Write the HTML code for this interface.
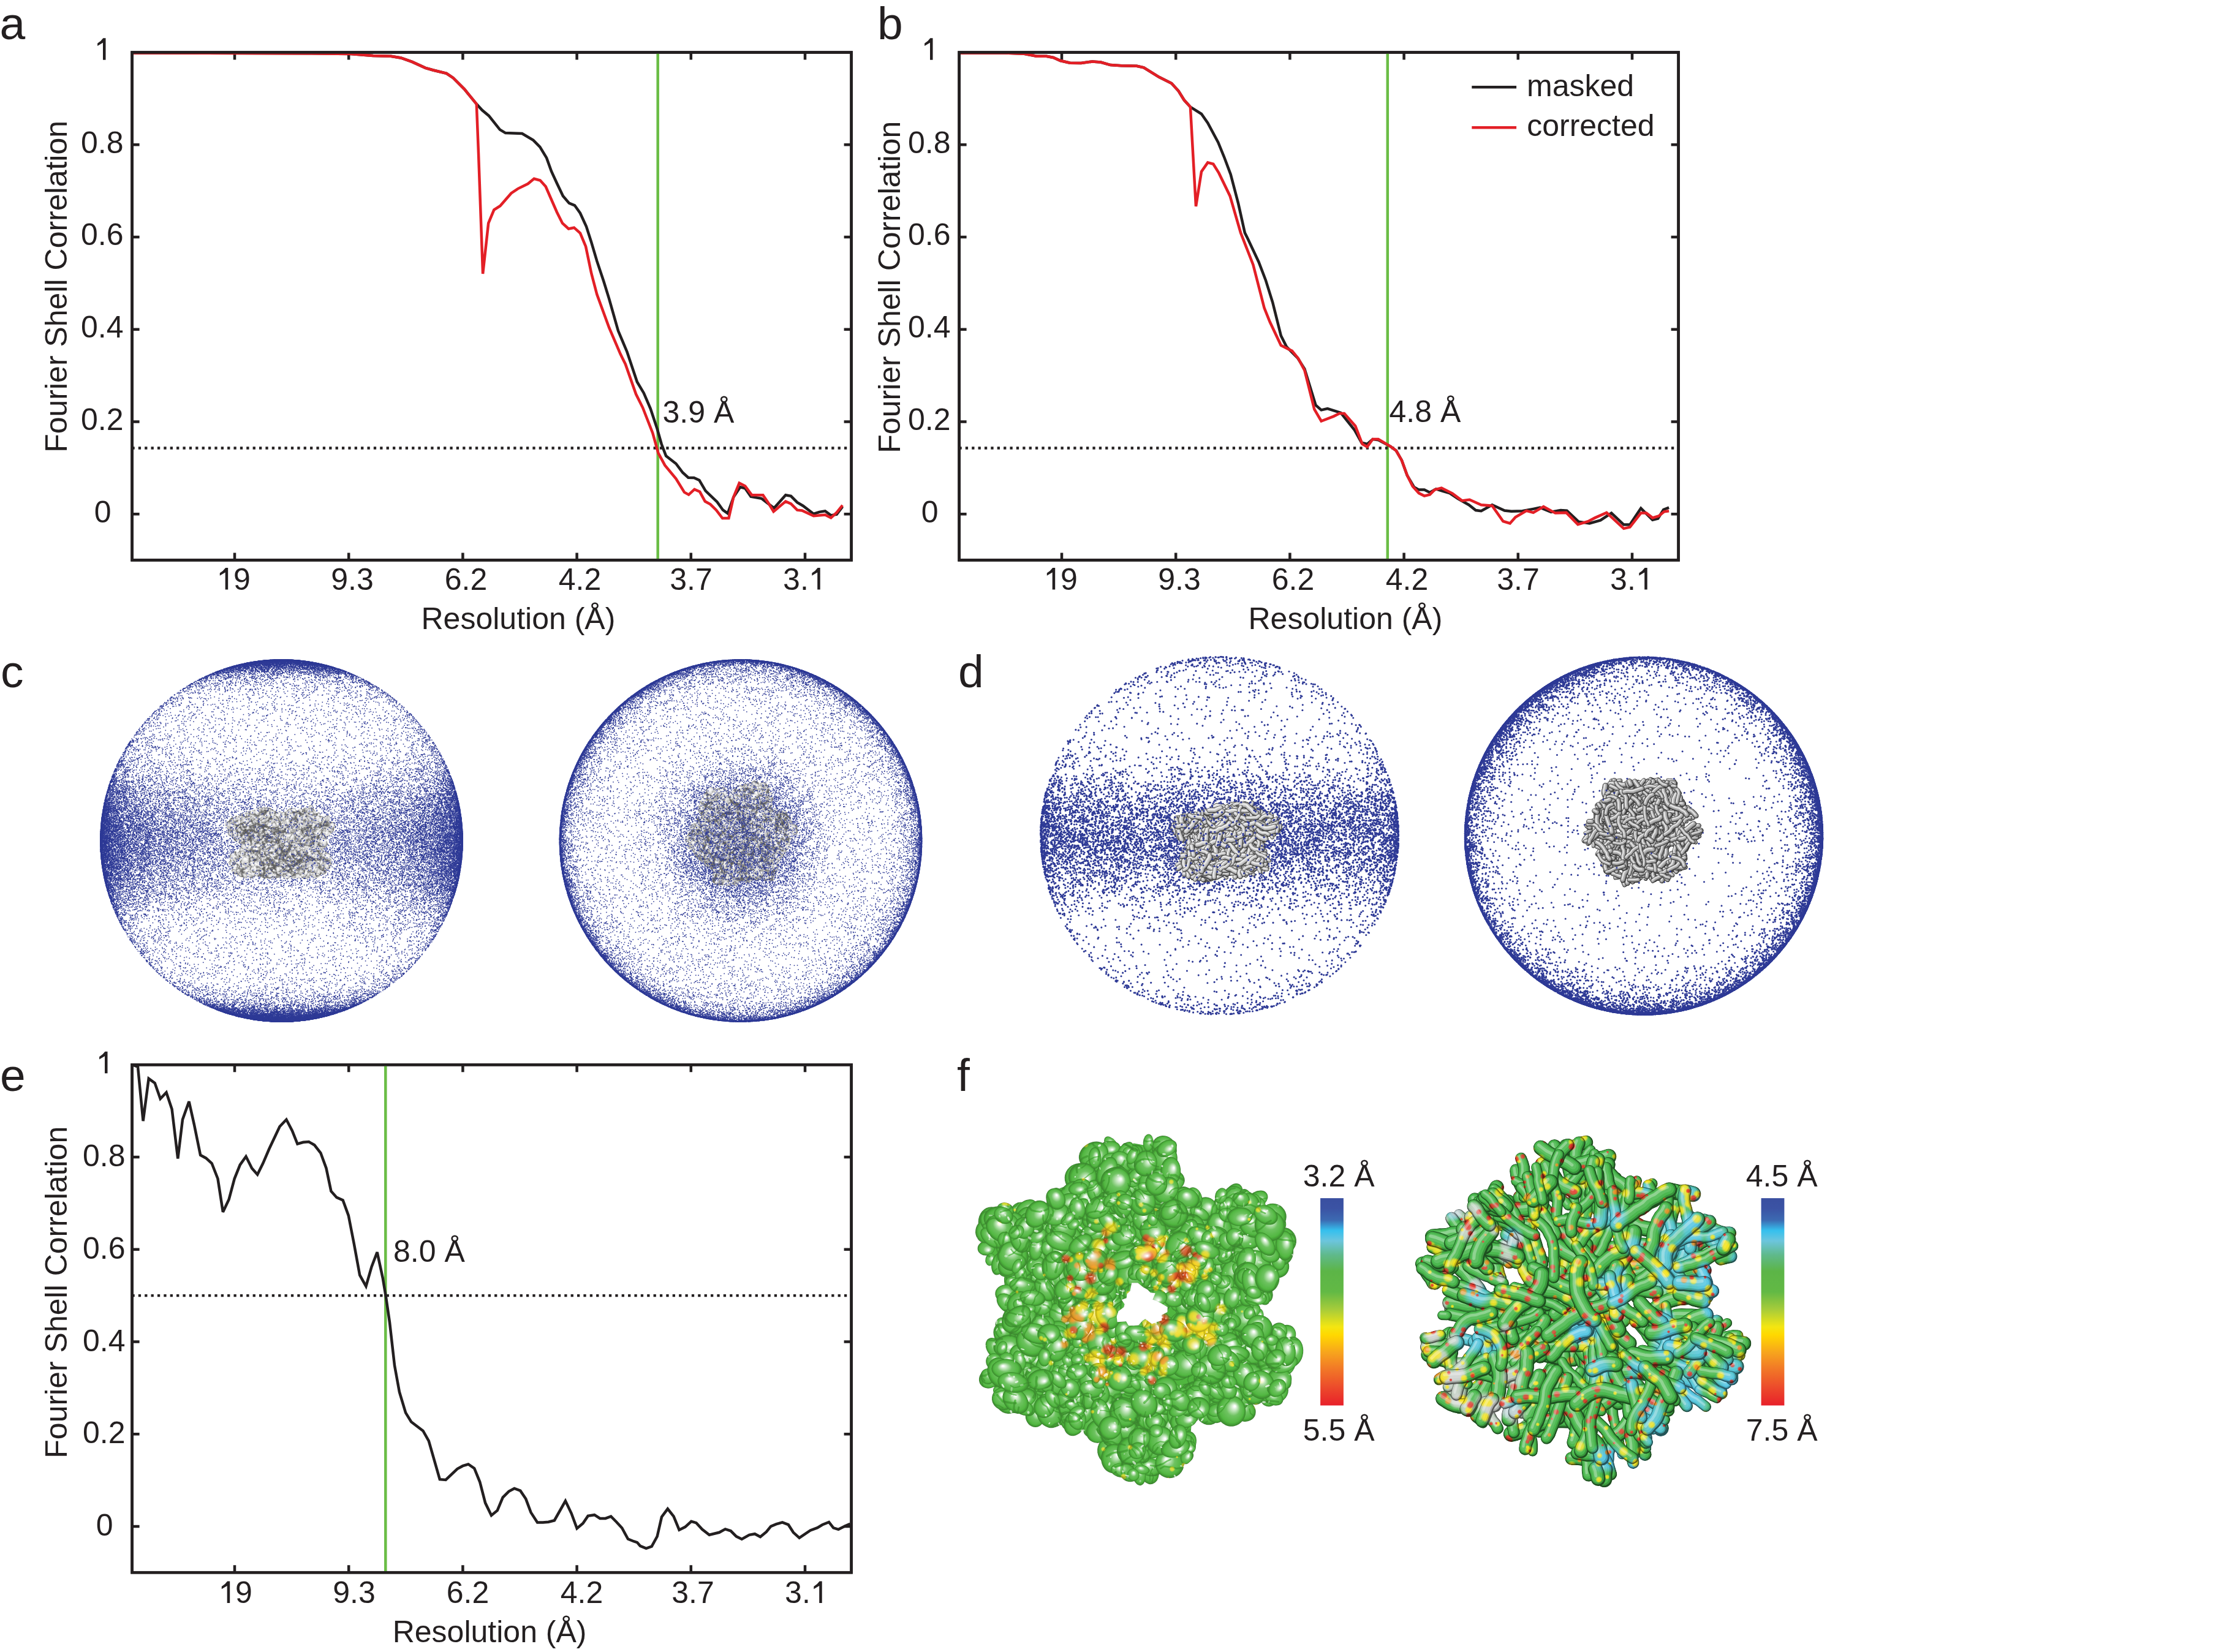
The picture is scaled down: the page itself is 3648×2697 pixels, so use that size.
<!DOCTYPE html>
<html><head><meta charset="utf-8"><title>figure</title>
<style>
html,body{margin:0;padding:0;background:#fff;}
body{width:3648px;height:2697px;position:relative;overflow:hidden;}
#cv,#sv{position:absolute;left:0;top:0;}
.t{font-family:"Liberation Sans",sans-serif;font-size:50px;fill:#231f20;}
.L{font-family:"Liberation Sans",sans-serif;font-size:75px;fill:#231f20;}
</style></head><body>
<canvas id="cv" width="3648" height="2697"></canvas>
<svg id="sv" width="3648" height="2697" viewBox="0 0 3648 2697">
<rect x="215.6" y="85.5" width="1174.0" height="828.9" fill="none" stroke="#231f20" stroke-width="4.5"/>
<path d="M383.0 914.4v-12M383.0 85.5v12M569.2 914.4v-12M569.2 85.5v12M755.4 914.4v-12M755.4 85.5v12M941.6 914.4v-12M941.6 85.5v12M1127.8 914.4v-12M1127.8 85.5v12M1314.0 914.4v-12M1314.0 85.5v12M215.6 839.2h12M1389.6 839.2h-12M215.6 688.5h12M1389.6 688.5h-12M215.6 537.8h12M1389.6 537.8h-12M215.6 387.0h12M1389.6 387.0h-12M215.6 236.3h12M1389.6 236.3h-12" stroke="#231f20" stroke-width="4.5" fill="none"/>
<path transform="translate(153.6,97.8)" d="M18.9 0H14.4V-28Q10 -25.4 5.5 -22.8V-27.1Q11.2 -30.4 14.8 -35.6H18.9Z" fill="#231f20"/>
<text x="166.8" y="249.6" text-anchor="middle" class="t">0.8</text>
<text x="166.8" y="400.3" text-anchor="middle" class="t">0.6</text>
<text x="166.8" y="551.1" text-anchor="middle" class="t">0.4</text>
<text x="166.8" y="701.8" text-anchor="middle" class="t">0.2</text>
<text x="167.6" y="852.5" text-anchor="middle" class="t">0</text>
<path transform="translate(353.3,962.6)" d="M18.9 0H14.4V-28Q10 -25.4 5.5 -22.8V-27.1Q11.2 -30.4 14.8 -35.6H18.9Z" fill="#231f20"/>
<text x="381.1" y="962.6" class="t">9</text>
<text x="575.0" y="962.6" text-anchor="middle" class="t">9.3</text>
<text x="760.5" y="962.6" text-anchor="middle" class="t">6.2</text>
<text x="946.5" y="962.6" text-anchor="middle" class="t">4.2</text>
<text x="1128.0" y="962.6" text-anchor="middle" class="t">3.7</text>
<text x="1278.1" y="962.6" class="t">3.</text>
<path transform="translate(1319.8,962.6)" d="M18.9 0H14.4V-28Q10 -25.4 5.5 -22.8V-27.1Q11.2 -30.4 14.8 -35.6H18.9Z" fill="#231f20"/>
<text x="687.5" y="1026.8" class="t">Resolution (Å)</text>
<text transform="translate(108.6,738.8) rotate(-90)" class="t">Fourier Shell Correlation</text>
<line x1="1073.7" y1="85.5" x2="1073.7" y2="914.4" stroke="#6abd45" stroke-width="4.5"/>
<line x1="215.4" y1="731.5" x2="1387.6" y2="731.5" stroke="#231f20" stroke-width="4.4" stroke-dasharray="4.3 6.08"/>
<text x="1081.5" y="689.6" class="t">3.9 Å</text>
<rect x="1565.6" y="85.5" width="1174.0" height="828.9" fill="none" stroke="#231f20" stroke-width="4.5"/>
<path d="M1733.0 914.4v-12M1733.0 85.5v12M1919.2 914.4v-12M1919.2 85.5v12M2105.4 914.4v-12M2105.4 85.5v12M2291.6 914.4v-12M2291.6 85.5v12M2477.8 914.4v-12M2477.8 85.5v12M2664.0 914.4v-12M2664.0 85.5v12M1565.6 839.2h12M2739.6 839.2h-12M1565.6 688.5h12M2739.6 688.5h-12M1565.6 537.8h12M2739.6 537.8h-12M1565.6 387.0h12M2739.6 387.0h-12M1565.6 236.3h12M2739.6 236.3h-12" stroke="#231f20" stroke-width="4.5" fill="none"/>
<path transform="translate(1503.6,97.8)" d="M18.9 0H14.4V-28Q10 -25.4 5.5 -22.8V-27.1Q11.2 -30.4 14.8 -35.6H18.9Z" fill="#231f20"/>
<text x="1516.8" y="249.6" text-anchor="middle" class="t">0.8</text>
<text x="1516.8" y="400.3" text-anchor="middle" class="t">0.6</text>
<text x="1516.8" y="551.1" text-anchor="middle" class="t">0.4</text>
<text x="1516.8" y="701.8" text-anchor="middle" class="t">0.2</text>
<text x="1517.6" y="852.5" text-anchor="middle" class="t">0</text>
<path transform="translate(1703.3,962.6)" d="M18.9 0H14.4V-28Q10 -25.4 5.5 -22.8V-27.1Q11.2 -30.4 14.8 -35.6H18.9Z" fill="#231f20"/>
<text x="1731.1" y="962.6" class="t">9</text>
<text x="1925.0" y="962.6" text-anchor="middle" class="t">9.3</text>
<text x="2110.5" y="962.6" text-anchor="middle" class="t">6.2</text>
<text x="2296.5" y="962.6" text-anchor="middle" class="t">4.2</text>
<text x="2478.0" y="962.6" text-anchor="middle" class="t">3.7</text>
<text x="2628.1" y="962.6" class="t">3.</text>
<path transform="translate(2669.8,962.6)" d="M18.9 0H14.4V-28Q10 -25.4 5.5 -22.8V-27.1Q11.2 -30.4 14.8 -35.6H18.9Z" fill="#231f20"/>
<text x="2037.5" y="1026.8" class="t">Resolution (Å)</text>
<text transform="translate(1468.5,739.7) rotate(-90)" class="t">Fourier Shell Correlation</text>
<line x1="2264.8" y1="85.5" x2="2264.8" y2="914.4" stroke="#6abd45" stroke-width="4.5"/>
<line x1="1565.4" y1="731.5" x2="2737.6" y2="731.5" stroke="#231f20" stroke-width="4.4" stroke-dasharray="4.3 6.08"/>
<text x="2267.5" y="688.7" class="t">4.8 Å</text>
<rect x="215.6" y="1738.3" width="1174.0" height="828.8999999999999" fill="none" stroke="#231f20" stroke-width="4.5"/>
<path d="M383.0 2567.2v-12M383.0 1738.3v12M569.2 2567.2v-12M569.2 1738.3v12M755.4 2567.2v-12M755.4 1738.3v12M941.6 2567.2v-12M941.6 1738.3v12M1127.8 2567.2v-12M1127.8 1738.3v12M1314.0 2567.2v-12M1314.0 1738.3v12M215.6 2492.0h12M1389.6 2492.0h-12M215.6 2341.3h12M1389.6 2341.3h-12M215.6 2190.6h12M1389.6 2190.6h-12M215.6 2039.8h12M1389.6 2039.8h-12M215.6 1889.1h12M1389.6 1889.1h-12" stroke="#231f20" stroke-width="4.5" fill="none"/>
<path transform="translate(156.6,1752.3)" d="M18.9 0H14.4V-28Q10 -25.4 5.5 -22.8V-27.1Q11.2 -30.4 14.8 -35.6H18.9Z" fill="#231f20"/>
<text x="169.8" y="1904.1" text-anchor="middle" class="t">0.8</text>
<text x="169.8" y="2054.8" text-anchor="middle" class="t">0.6</text>
<text x="169.8" y="2205.6" text-anchor="middle" class="t">0.4</text>
<text x="169.8" y="2356.3" text-anchor="middle" class="t">0.2</text>
<text x="170.6" y="2507.0" text-anchor="middle" class="t">0</text>
<path transform="translate(356.3,2617.1)" d="M18.9 0H14.4V-28Q10 -25.4 5.5 -22.8V-27.1Q11.2 -30.4 14.8 -35.6H18.9Z" fill="#231f20"/>
<text x="384.1" y="2617.1" class="t">9</text>
<text x="578.0" y="2617.1" text-anchor="middle" class="t">9.3</text>
<text x="763.5" y="2617.1" text-anchor="middle" class="t">6.2</text>
<text x="949.5" y="2617.1" text-anchor="middle" class="t">4.2</text>
<text x="1131.0" y="2617.1" text-anchor="middle" class="t">3.7</text>
<text x="1281.1" y="2617.1" class="t">3.</text>
<path transform="translate(1322.8,2617.1)" d="M18.9 0H14.4V-28Q10 -25.4 5.5 -22.8V-27.1Q11.2 -30.4 14.8 -35.6H18.9Z" fill="#231f20"/>
<text x="640.7" y="2681.1" class="t">Resolution (Å)</text>
<text transform="translate(108.6,2380.7) rotate(-90)" class="t">Fourier Shell Correlation</text>
<line x1="629.3" y1="1738.3" x2="629.3" y2="2567.2" stroke="#6abd45" stroke-width="4.5"/>
<line x1="215.4" y1="2115.1" x2="1387.6" y2="2115.1" stroke="#231f20" stroke-width="4.4" stroke-dasharray="4.3 6.08"/>
<text x="642" y="2060.1" class="t">8.0 Å</text>
<polyline points="217.0,86.5 500.0,87.2 572.6,88.1 609.0,90.9 638.0,91.8 654.3,94.5 672.5,100.9 694.3,110.8 707.0,114.5 728.8,119.9 739.7,127.2 757.8,145.3 777.8,169.8 786.9,179.8 797.8,188.9 815.9,211.6 825.0,217.1 852.2,218.0 870.4,228.9 881.3,239.8 892.2,257.9 900.0,279.7 908.9,299.0 918.9,319.9 928.9,331.7 938.0,335.3 947.0,348.0 957.0,369.8 965.2,395.3 974.3,426.1 985.2,458.8 994.2,487.9 1009.0,540.0 1023.5,574.5 1039.9,623.5 1050.8,641.7 1061.7,667.1 1072.6,699.8 1079.8,725.2 1087.1,744.3 1103.4,757.0 1114.3,771.5 1123.4,779.7 1132.7,780.0 1141.4,783.9 1151.6,801.3 1170.5,819.4 1180.0,832.7 1187.8,838.2 1197.3,811.5 1208.3,795.0 1216.2,797.3 1225.6,810.7 1242.9,813.8 1263.4,829.6 1282.3,808.3 1291.0,809.9 1301.2,820.1 1310.6,825.7 1328.0,839.0 1337.4,835.9 1346.8,834.3 1356.3,841.4 1365.7,839.8 1375.2,827.2" fill="none" stroke="#231f20" stroke-width="4.5" stroke-linejoin="miter" stroke-miterlimit="3"/>
<polyline points="217.0,86.5 500.0,87.2 572.6,88.1 609.0,90.9 638.0,91.8 654.3,94.5 672.5,100.9 694.3,110.8 707.0,114.5 728.8,119.9 739.7,127.2 757.8,145.3 777.8,169.8 781.0,250.0 788.1,447.0 797.2,364.4 806.3,342.6 816.3,336.2 834.4,315.4 845.3,308.1 861.7,300.0 871.7,291.8 881.7,294.5 890.7,304.5 908.9,346.2 918.0,364.4 928.0,373.5 937.0,371.7 947.0,380.7 956.1,402.5 965.2,446.1 974.3,480.6 994.2,535.0 1012.7,578.1 1020.8,594.5 1038.1,643.5 1049.0,665.3 1065.3,707.0 1074.4,739.7 1085.3,759.7 1103.4,781.5 1117.0,803.6 1124.1,807.6 1133.5,798.9 1142.2,802.8 1150.8,818.6 1159.5,823.3 1169.0,832.7 1179.2,846.1 1189.4,846.1 1197.3,811.5 1206.7,788.7 1216.2,793.4 1227.2,808.3 1245.3,808.3 1254.0,820.9 1262.6,835.1 1282.3,818.6 1291.0,822.5 1301.2,832.7 1309.1,833.5 1328.0,842.2 1346.8,840.6 1356.3,845.3 1365.7,836.7 1375.2,824.9" fill="none" stroke="#e31f26" stroke-width="4.5" stroke-linejoin="miter" stroke-miterlimit="3"/>
<polyline points="1567.0,86.5 1640.0,86.5 1671.7,87.7 1692.1,91.8 1708.0,91.8 1719.3,94.0 1730.7,99.0 1746.6,102.7 1764.7,103.1 1782.9,100.4 1796.5,101.5 1812.4,106.1 1830.5,107.2 1855.5,107.7 1866.9,110.4 1891.8,125.8 1912.2,136.0 1923.6,148.5 1932.7,163.3 1942.9,174.6 1961.0,186.0 1971.3,200.7 1988.3,232.5 1998.5,257.5 2008.7,284.7 2021.2,332.4 2031.8,380.0 2036.3,389.1 2054.5,427.7 2065.8,457.2 2077.2,493.5 2090.8,548.0 2099.9,566.1 2118.0,584.3 2129.4,602.4 2147.5,661.4 2156.6,669.4 2166.8,667.1 2188.4,673.9 2211.1,702.3 2222.4,722.7 2231.5,725.0 2240.6,717.0 2249.7,718.2 2270.0,729.1 2278.9,735.8 2287.9,751.5 2296.8,776.1 2308.0,795.1 2315.9,799.6 2324.8,799.6 2333.8,804.0 2343.8,798.4 2355.0,801.8 2366.2,805.1 2379.6,814.1 2397.5,824.2 2408.7,833.1 2417.6,834.2 2435.5,824.2 2455.7,833.6 2466.9,834.7 2484.8,834.2 2502.7,830.9 2513.8,828.6 2531.7,835.8 2547.4,833.1 2557.5,833.6 2576.5,851.7 2594.4,854.4 2612.3,849.4 2630.2,837.6 2650.3,856.6 2660.4,856.6 2678.3,829.8 2697.3,848.8 2706.2,846.5 2715.2,832.0 2724.1,828.6" fill="none" stroke="#231f20" stroke-width="4.5" stroke-linejoin="miter" stroke-miterlimit="3"/>
<polyline points="1567.0,86.5 1640.0,86.5 1671.7,87.7 1692.1,91.8 1708.0,91.8 1719.3,94.0 1730.7,99.0 1746.6,102.7 1764.7,103.1 1782.9,100.4 1796.5,101.5 1812.4,106.1 1830.5,107.2 1855.5,107.7 1866.9,110.4 1891.8,125.8 1912.2,136.0 1923.6,148.5 1932.7,163.3 1942.9,174.6 1952.0,336.9 1961.0,280.2 1971.3,265.4 1980.3,267.7 1989.4,282.4 2007.6,319.9 2025.0,380.0 2045.4,432.2 2063.5,502.6 2072.6,525.3 2090.8,563.8 2108.9,572.9 2119.2,585.4 2129.4,604.7 2145.3,668.2 2156.6,687.5 2177.0,679.6 2186.1,675.0 2194.1,675.0 2212.2,695.5 2223.6,725.0 2231.5,729.5 2240.6,717.0 2249.7,717.0 2270.0,729.1 2278.9,735.8 2287.9,751.5 2296.8,776.1 2305.8,794.0 2315.9,805.1 2324.8,809.6 2333.8,807.4 2341.6,799.6 2352.8,796.6 2370.7,805.6 2386.3,817.4 2398.6,815.7 2417.6,824.2 2435.5,825.7 2453.4,851.0 2464.6,854.4 2473.6,844.3 2491.5,833.8 2502.7,836.9 2519.4,827.1 2538.5,837.6 2556.4,836.9 2575.4,856.2 2592.1,851.2 2603.3,845.4 2622.3,836.9 2650.3,862.9 2660.4,860.6 2678.3,837.6 2687.2,837.6 2697.3,845.4 2707.4,842.5 2716.3,835.3 2724.1,834.2" fill="none" stroke="#e31f26" stroke-width="4.5" stroke-linejoin="miter" stroke-miterlimit="3"/>
<polyline points="217.0,1738.6 225.0,1741.6 233.6,1830.1 242.7,1760.9 252.7,1768.1 261.7,1793.8 271.5,1783.5 280.6,1810.8 290.3,1891.4 298.0,1827.8 308.5,1798.3 316.9,1835.8 327.1,1885.7 336.2,1890.7 345.7,1899.3 355.5,1924.3 363.9,1978.7 373.6,1958.3 382.7,1924.3 391.8,1901.6 401.5,1888.0 411.1,1907.2 420.2,1917.5 429.2,1899.3 439.4,1875.5 456.5,1839.2 467.4,1827.8 476.9,1846.0 485.5,1867.5 495.0,1864.8 504.1,1864.1 513.2,1869.3 523.4,1882.3 532.5,1907.2 540.4,1944.7 549.5,1954.9 559.7,1959.4 568.8,1984.4 577.9,2030.9 587.2,2081.7 597.4,2099.9 606.5,2068.1 615.6,2044.3 624.7,2086.2 630.4,2120.3 636.0,2158.9 644.0,2229.2 651.9,2272.4 662.1,2306.4 671.2,2321.2 690.5,2335.9 699.8,2352.3 717.8,2415.2 727.6,2416.0 746.4,2398.1 755.4,2393.2 764.4,2390.4 774.2,2397.2 783.2,2419.3 792.1,2453.6 802.0,2474.0 811.8,2465.9 820.7,2444.6 830.5,2434.8 839.5,2429.9 849.3,2433.7 858.3,2447.1 866.5,2469.1 877.1,2485.5 886.1,2485.5 895.1,2484.7 904.9,2482.2 922.9,2450.4 932.7,2470.8 941.7,2495.3 951.5,2487.1 959.7,2474.9 970.3,2473.2 979.3,2478.9 988.2,2478.9 997.2,2475.7 1006.2,2484.7 1015.2,2494.5 1025.0,2512.5 1034.8,2516.5 1040.0,2518.1 1044.9,2523.8 1054.7,2527.9 1063.7,2524.6 1072.7,2508.3 1080.0,2476.4 1089.8,2463.3 1099.6,2475.6 1108.6,2497.7 1118.4,2492.8 1128.3,2483.8 1136.4,2486.2 1146.2,2496.8 1157.7,2505.8 1174.0,2501.8 1183.8,2496.4 1192.8,2499.3 1201.8,2508.3 1210.8,2512.7 1223.0,2505.8 1232.0,2504.2 1241.0,2509.1 1250.8,2500.9 1258.2,2491.9 1267.2,2488.2 1277.0,2485.4 1286.8,2489.2 1294.9,2501.8 1304.7,2510.7 1322.7,2498.5 1334.2,2494.1 1342.3,2489.2 1353.0,2484.9 1360.3,2494.4 1368.5,2496.8 1380.0,2491.1 1387.5,2487.9" fill="none" stroke="#231f20" stroke-width="4.5" stroke-linejoin="miter" stroke-miterlimit="3"/>
<rect x="215.6" y="85.5" width="1174.0" height="828.9" fill="none" stroke="#231f20" stroke-width="4.5"/>
<rect x="1565.6" y="85.5" width="1174.0" height="828.9" fill="none" stroke="#231f20" stroke-width="4.5"/>
<rect x="215.6" y="1738.3" width="1174.0" height="828.9" fill="none" stroke="#231f20" stroke-width="4.5"/>
<line x1="2402.3" y1="142.2" x2="2475.1" y2="142.2" stroke="#231f20" stroke-width="4.5"/>
<line x1="2402.3" y1="208.3" x2="2475.1" y2="208.3" stroke="#e31f26" stroke-width="4.5"/>
<text x="2492" y="156.5" class="t">masked</text>
<text x="2492.2" y="222.3" class="t">corrected</text>
<text x="-0.5" y="63.8" class="L">a</text>
<text x="1432" y="64" class="L">b</text>
<text x="0.9" y="1122" class="L">c</text>
<text x="1564" y="1122" class="L">d</text>
<text x="0" y="1781" class="L">e</text>
<text x="1562" y="1780.6" class="L">f</text>
<defs><linearGradient id="cb" x1="0" y1="0" x2="0" y2="1">
<stop offset="0" stop-color="#3a4fa0"/><stop offset="0.05" stop-color="#3b53a4"/><stop offset="0.106" stop-color="#3c6ab2"/>
<stop offset="0.156" stop-color="#35c0ee"/><stop offset="0.206" stop-color="#6cc5dd"/><stop offset="0.275" stop-color="#5fb98a"/>
<stop offset="0.352" stop-color="#5cb547"/><stop offset="0.452" stop-color="#62b945"/><stop offset="0.537" stop-color="#a7cc3a"/>
<stop offset="0.621" stop-color="#f4e611"/><stop offset="0.66" stop-color="#ffd800"/><stop offset="0.745" stop-color="#f7a41d"/>
<stop offset="0.814" stop-color="#f27d26"/><stop offset="0.914" stop-color="#ec4a2b"/><stop offset="1" stop-color="#e8202a"/>
</linearGradient></defs>
<rect x="2155.1" y="1956.1" width="37.8" height="338.4" fill="url(#cb)"/>
<rect x="2874.6" y="1956.1" width="37.8" height="338.4" fill="url(#cb)"/>
<text x="2126.8" y="1937.4" class="t">3.2 Å</text>
<text x="2126.8" y="2351.8" class="t">5.5 Å</text>
<text x="2849.8" y="1937.4" class="t">4.5 Å</text>
<text x="2849.8" y="2351.8" class="t">7.5 Å</text>
<g id="fb">
<defs><radialGradient id="gc"><stop offset="0" stop-color="#2e3a96" stop-opacity="0.13"/><stop offset="0.8" stop-color="#2e3a96" stop-opacity="0.25"/><stop offset="1" stop-color="#2e3a96" stop-opacity="0.9"/></radialGradient>
<radialGradient id="gd"><stop offset="0" stop-color="#2e3a96" stop-opacity="0.05"/><stop offset="0.85" stop-color="#2e3a96" stop-opacity="0.12"/><stop offset="1" stop-color="#2e3a96" stop-opacity="0.85"/></radialGradient></defs>
<circle cx="459.5" cy="1372.5" r="295.5" fill="url(#gc)"/>
<circle cx="1209" cy="1372.5" r="295.5" fill="url(#gc)"/>
<circle cx="1990.6" cy="1364.2" r="292" fill="url(#gd)"/>
<circle cx="2683" cy="1364.6" r="291.7" fill="url(#gd)"/>
<rect x="1698" y="1290" width="584" height="150" fill="#2e3a96" fill-opacity="0.15"/>
<polygon points="399,1323 422,1316 443,1318 458,1323 479,1318 515,1316 520,1324 542,1334 551,1348 544,1362 537,1378 530,1388 540,1398 546,1408 540,1424 525,1434 494,1436 453,1437 412,1436 379,1429 371,1414 376,1398 393,1383 381,1372 365,1352 364,1339 376,1333 386,1329" fill="#8a8a8a"/>
<polygon points="1155,1283 1177,1283 1187,1293 1216,1273 1249,1275 1264,1293 1260,1314 1289,1329 1305,1355 1297,1375 1277,1407 1266,1439 1233,1440 1193,1450 1167,1448 1159,1423 1127,1396 1113,1370 1120,1354 1140,1330 1136,1306 1147,1294" fill="#7a7a9a"/>
<polygon points="1915,1335 1942,1329 1968,1324 1988,1315 2019,1311 2044,1311 2052,1321 2086,1333 2091,1352 2084,1366 2060,1372 2065,1383 2073,1403 2071,1424 2044,1429 2014,1434 1983,1436 1952,1437 1926,1429 1918,1408 1931,1393 1939,1378 1921,1367 1913,1352" fill="#b0b0b0"/>
<polygon points="1773,1874 1814,1854 1851,1847 1913,1858 1917,1904 1939,1922 1984,1952 2013,1933 2083,1956 2098,1989 2113,2026 2120,2044 2102,2059 2083,2088 2072,2144 2068,2166 2113,2170 2124,2221 2120,2255 2094,2292 2050,2310 1991,2317 1954,2336 1950,2365 1939,2395 1913,2413 1858,2423 1806,2406 1799,2369 1780,2347 1725,2328 1673,2321 1644,2306 1618,2280 1603,2273 1600,2236 1607,2192 1625,2162 1633,2125 1622,2070 1592,2048 1592,2015 1601,1989 1636,1959 1688,1952 1718,1937 1747,1915 1769,1896" fill="#4fb63e"/>
<polygon points="2479,1886 2500,1876 2564,1867 2593,1856 2604,1879 2643,1890 2646,1911 2668,1926 2729,1936 2761,1940 2775,1983 2821,1997 2832,2051 2811,2069 2796,2097 2793,2154 2832,2158 2850,2186 2839,2215 2829,2251 2818,2272 2775,2304 2732,2290 2714,2333 2693,2340 2686,2376 2657,2397 2621,2419 2586,2419 2546,2397 2514,2386 2489,2365 2461,2347 2418,2322 2393,2301 2357,2304 2346,2261 2343,2229 2321,2201 2325,2154 2354,2147 2364,2119 2357,2101 2318,2090 2314,2069 2332,2051 2336,2011 2382,1972 2407,1958 2443,1936 2446,1940 2471,1926" fill="#5cb85c"/>
<circle cx="2681" cy="1356" r="90" fill="#b0b0b0"/>
<circle cx="1862" cy="2134" r="33" fill="#fff"/>
</g>
</svg>
<script>
(function(){
var fbe=document.getElementById('fb');if(fbe)fbe.style.display='none';
var cv=document.getElementById('cv');
var ctx=cv.getContext('2d');
function mk(seed){var s=seed>>>0;return function(){s=(s+0x6D2B79F5)>>>0;var t=s;t=Math.imul(t^(t>>>15),t|1);t^=t+Math.imul(t^(t>>>7),t|61);return((t^(t>>>14))>>>0)/4294967296;};}
function gs(r){var u=0;while(u===0)u=r();var v=r();return Math.sqrt(-2*Math.log(u))*Math.cos(6.283185*v);}
function polyPath(c,p){c.beginPath();c.moveTo(p[0],p[1]);for(var i=2;i<p.length;i+=2)c.lineTo(p[i],p[i+1]);c.closePath();}
function inPoly(p,x,y){var ins=false;for(var i=0,j=p.length-2;i<p.length;j=i,i+=2){var xi=p[i],yi=p[i+1],xj=p[j],yj=p[j+1];if(((yi>y)!=(yj>y))&&(x<(xj-xi)*(y-yi)/(yj-yi)+xi))ins=!ins;}return ins;}
function bbox(p){var a=1e9,b=1e9,c=-1e9,d=-1e9;for(var i=0;i<p.length;i+=2){a=Math.min(a,p[i]);c=Math.max(c,p[i]);b=Math.min(b,p[i+1]);d=Math.max(d,p[i+1]);}return[a,b,c,d];}
function randIn(r,p,bb){for(var k=0;k<200;k++){var x=bb[0]+r()*(bb[2]-bb[0]),y=bb[1]+r()*(bb[3]-bb[1]);if(inPoly(p,x,y))return[x,y];}return[(bb[0]+bb[2])/2,(bb[1]+bb[3])/2];}

/* ---------- sphere point clouds ---------- */
function genPts(r,o){
  var P=[];
  var n=o.axis;
  var e1,e2;
  if(Math.abs(n[2])>0.9){e1=[1,0,0];e2=[0,1,0];}else{e1=[1,0,0];e2=[0,0,1];}
  function push(v){P.push(v);}
  var i;
  for(i=0;i<o.nu;i++){var z=2*r()-1,ph=6.283185*r(),s=Math.sqrt(1-z*z);push([s*Math.cos(ph),s*Math.sin(ph),z]);}
  for(i=0;i<o.nb;i++){
    var lon=6.283185*r();
    if(o.bw){var w=o.bw(lon);if(r()>w){i--;continue;}}
    var lat=gs(r)*o.bs;
    var cl=Math.cos(lat),sl=Math.sin(lat),c=Math.cos(lon),s2=Math.sin(lon);
    push([cl*(c*e1[0]+s2*e2[0])+sl*n[0],cl*(c*e1[1]+s2*e2[1])+sl*n[1],cl*(c*e1[2]+s2*e2[2])+sl*n[2]]);
  }
  if(o.nb2){var sv=o.nb,ss=o.bs;o.nb=0;}
  for(i=0;i<(o.nb2||0);i++){
    var lonb=6.283185*r();
    if(o.bw){var wb=o.bw(lonb);if(r()>wb){i--;continue;}}
    var latb=gs(r)*o.bs2;
    var clb=Math.cos(latb),slb=Math.sin(latb),cb=Math.cos(lonb),sb=Math.sin(lonb);
    push([clb*(cb*e1[0]+sb*e2[0])+slb*n[0],clb*(cb*e1[1]+sb*e2[1])+slb*n[1],clb*(cb*e1[2]+sb*e2[2])+slb*n[2]]);
  }
  if(o.nb2){o.nb=sv;}
  for(i=0;i<o.np;i++){
    var lon2=6.283185*r();
    var th=o.ps*Math.sqrt(-2*Math.log(Math.max(1e-9,r())));
    var sg=(r()<o.pfront)?1:-1;
    var ct=Math.cos(th),st=Math.sin(th),c3=Math.cos(lon2),s3=Math.sin(lon2);
    push([st*(c3*e1[0]+s3*e2[0])+sg*ct*n[0],st*(c3*e1[1]+s3*e2[1])+sg*ct*n[1],st*(c3*e1[2]+s3*e2[2])+sg*ct*n[2]]);
  }
  return P;
}
function drawDots(c,P,cx,cy,R,o,front){
  c.fillStyle=o.col;
  var sz=o.sz,h=sz/2;
  for(var i=0;i<P.length;i++){
    var v=P[i];
    if((v[2]>=0)!==front)continue;
    var x=cx+v[0]*R,y=cy+v[1]*R;
    if(front&&o.skip&&inPoly(o.skip[0],x,y)&&((i*2654435761)>>>0)%1000<o.skip[1]*1000)continue;
    if(o.round){c.beginPath();c.arc(x,y,h,0,6.2832);c.fill();}
    else c.fillRect(x-h,y-h,sz,sz);
  }
}

/* ---------- molecule textures ---------- */
function worms(c,r,p,bb,o){
  // o: n, steps, step, w, cols(fn), dark, light
  var list=[];
  for(var k=0;k<o.n;k++){
    var st=randIn(r,p,bb);var x=st[0],y=st[1];var a=r()*6.2832;var pts=[x,y];
    for(var s=0;s<o.steps;s++){a+=(r()-0.5)*o.turn;x+=Math.cos(a)*o.step;y+=Math.sin(a)*o.step;pts.push(x,y);}
    list.push(pts);
  }
  function stroke(pts,w,col,dx,dy){c.lineWidth=w;c.strokeStyle=col;c.beginPath();c.moveTo(pts[0]+dx,pts[1]+dy);for(var i=2;i<pts.length;i+=2)c.lineTo(pts[i]+dx,pts[i+1]+dy);c.stroke();}
  c.lineCap='round';c.lineJoin='round';
  for(var k2=0;k2<list.length;k2++){
    var pts=list[k2];var w=o.w*(0.8+0.4*r());
    stroke(pts,w+o.edge,o.dark,o.sdx,o.sdy);
    var col=o.cols(r,pts[0],pts[1]);
    stroke(pts,w,col,0,0);
    if(o.spots){o.spots(c,r,pts,w);}
    stroke(pts,w*0.35,o.light,-w*0.18,-w*0.22);
  }
}

function molecule(c,seed,p,o){
  var r=mk(seed);var bb=bbox(p);
  c.save();
  polyPath(c,p);
  if(o.base){c.fillStyle=o.base;c.fill();}
  c.clip();
  worms(c,r,p,bb,o);
  if(o.post)o.post(c,r,p,bb);
  c.restore();
}

/* gray molecules */
function grayCols(r){var g=Math.floor(150+r()*50);return 'rgb('+g+','+g+','+g+')';}
function grayOpts(n,w){return {n:n,steps:7,step:w*0.9,turn:1.6,w:w,edge:2.2,dark:'rgba(60,60,60,0.95)',light:'rgba(245,245,245,0.85)',cols:grayCols,sdx:1.2,sdy:1.5,base:'#6e6e6e'};}

var c1Mol=[399.4,1322.9,422,1315.7,442.6,1317.8,458,1322.9,478.6,1317.8,514.6,1315.7,519.8,1324,542.4,1334.2,550.7,1347.6,543.5,1362,537.3,1377.5,530.1,1387.8,540.4,1398,545.5,1408.3,540.4,1423.8,524.9,1434.1,494.1,1436.1,452.9,1437.1,411.7,1436.1,378.8,1428.9,370.6,1413.5,375.7,1398,393.2,1382.6,380.9,1372.3,365.4,1351.7,364.4,1339.4,375.7,1333.2,386,1329.1];
var c2Mol=[1154.6,1283.3,1177.2,1283.3,1186.6,1292.6,1215.9,1272.6,1249.2,1275.3,1263.8,1292.6,1259.8,1313.9,1289.1,1328.6,1305.1,1355.2,1297.1,1375.2,1277.1,1407.1,1266.5,1439.1,1233.2,1440.4,1193.2,1449.8,1166.6,1448.4,1158.6,1423.1,1126.6,1396.5,1113.3,1369.9,1120,1353.9,1140,1329.9,1136,1305.9,1146.6,1293.9];
var d1Mol=[1914.7,1335.3,1941.5,1329.1,1968.2,1324,1987.8,1314.7,2018.6,1310.6,2044.4,1310.6,2051.6,1320.9,2085.5,1333.2,2090.7,1351.7,2083.5,1366.1,2059.8,1372.3,2064.9,1382.6,2073.2,1403.2,2071.1,1423.8,2044.4,1428.9,2013.5,1434.1,1982.6,1436.1,1951.7,1437.1,1926,1428.9,1917.8,1408.3,1931.2,1392.9,1939.4,1377.5,1920.9,1367.2,1912.6,1351.7];
function scaleP(p,cx,cy,s){var q=[];for(var i=0;i<p.length;i+=2){q.push(cx+(p[i]-cx)*s,cy+(p[i+1]-cy)*s);}return q;}

/* ---------- panel c & d ---------- */
var BLUE='rgb(46,58,150)';
function spherePanel(seed,cx,cy,R,o,molFn){
  var r=mk(seed);var P=genPts(r,o);
  drawDots(ctx,P,cx,cy,R,o,false);
  molFn();
  drawDots(ctx,P,cx,cy,R,o,true);
}
/* ---------- panel f ---------- */
var f1=[1773,1874.3,1813.7,1854,1850.6,1846.6,1913.4,1857.7,1917,1903.8,1939.2,1922.3,1983.5,1951.8,2013,1933.4,2083.2,1955.5,2097.8,1988.8,2112.6,2025.7,2119.9,2044.1,2101.6,2058.9,2083.2,2088.4,2072.1,2143.8,2068.4,2166,2112.6,2169.7,2123.7,2221.4,2120,2254.6,2093.9,2291.5,2049.9,2310,1990.8,2317.4,1954,2335.8,1950.3,2365.3,1939.2,2394.9,1913.4,2413.3,1858,2422.6,1806.3,2406,1798.9,2369,1780.4,2346.9,1725.1,2328.4,1673.4,2321,1643.8,2306.3,1618,2280.4,1603.2,2273,1599.5,2236.1,1606.9,2191.8,1625.4,2162.3,1632.8,2125.4,1621.7,2070,1592.1,2047.8,1592.1,2014.6,1601.4,1988.8,1636.5,1959.2,1688.1,1951.8,1717.7,1937.1,1747.2,1914.9,1769.4,1896.5];
var f2=[2478.6,1886.4,2500,1875.7,2564.3,1866.8,2592.9,1856,2603.6,1879.3,2642.9,1890,2646.4,1911.4,2667.9,1925.7,2728.6,1936.4,2760.7,1940,2775,1982.9,2821.4,1997.1,2832.1,2050.7,2810.7,2068.6,2796.4,2097.1,2792.9,2154.3,2832.1,2157.9,2850,2186.4,2839.3,2215,2828.6,2250.7,2817.9,2272.1,2775,2304.3,2732.1,2290,2714.3,2332.9,2692.9,2340,2685.7,2375.7,2657.1,2397.1,2621.4,2418.6,2585.7,2418.6,2546.4,2397.1,2514.3,2386.4,2489.3,2365,2460.7,2347.1,2417.9,2322.1,2392.9,2300.7,2357.1,2304.3,2346.4,2261.4,2342.9,2229.3,2321.4,2200.7,2325,2154.3,2353.6,2147.1,2364.3,2118.6,2357.1,2100.7,2317.9,2090,2314.3,2068.6,2332.1,2050.7,2335.7,2011.4,2382.1,1972.1,2407.1,1957.9,2442.9,1936.4,2446.4,1940,2471.4,1925.7];


function offc(w,h){var c=document.createElement('canvas');c.width=w;c.height=h;return c;}
function softSpot(c,x,y,rad,col,a){var g=c.createRadialGradient(x,y,0,x,y,rad);g.addColorStop(0,'rgba('+col+','+a+')');g.addColorStop(0.55,'rgba('+col+','+(a*0.85)+')');g.addColorStop(1,'rgba('+col+',0)');c.fillStyle=g;c.beginPath();c.arc(x,y,rad,0,6.2832);c.fill();}
/* generic render: silhouette fn, shading fn, color fn; all in offscreen local coords */
function render3d(bb,pad,draw){
  var ox=Math.floor(bb[0]-pad),oy=Math.floor(bb[1]-pad),W=Math.ceil(bb[2]-bb[0]+2*pad),H=Math.ceil(bb[3]-bb[1]+2*pad);
  var O=offc(W,H),S=offc(W,H),F=offc(W,H),L=offc(W,H);
  var o=O.getContext('2d'),sc=S.getContext('2d'),fc=F.getContext('2d'),lc=L.getContext('2d');
  [o,sc,fc,lc].forEach(function(c){c.translate(-ox,-oy);c.lineCap='round';c.lineJoin='round';});
  draw(o,sc,fc,lc);
  var R=offc(W,H),rc=R.getContext('2d');
  rc.drawImage(O,0,0);
  rc.globalCompositeOperation='source-atop';rc.drawImage(F,0,0);
  rc.globalCompositeOperation='hard-light';rc.drawImage(S,0,0);
  rc.globalCompositeOperation='destination-in';rc.drawImage(O,0,0);
  rc.globalCompositeOperation='source-atop';rc.drawImage(L,0,0);
  ctx.drawImage(R,ox,oy);
}
function shrinkPoly(p,cx,cy,d){var q=[];for(var i=0;i<p.length;i+=2){var dx=p[i]-cx,dy=p[i+1]-cy,l=Math.hypot(dx,dy)||1;var f=Math.max(0,(l-d)/l);q.push(cx+dx*f,cy+dy*f);}return q;}
function pcenter(p){var x=0,y=0;for(var i=0;i<p.length;i+=2){x+=p[i];y+=p[i+1];}return[x/(p.length/2),y/(p.length/2)];}

/* lumpy surface molecule (f1 & gray) */
function lumpy(seed,p,o){
  var r=mk(seed),bb=bbox(p),pc=pcenter(p);
  var inner=shrinkPoly(p,pc[0],pc[1],o.edgeIn||14);var ib=bbox(inner);var mid=shrinkPoly(p,pc[0],pc[1],o.edgeMid||8);var mb=bbox(mid);
  render3d(bb,30,function(sil,sh,fc,lc){
    // shading base
    sh.fillStyle='rgb('+o.shBase+','+o.shBase+','+o.shBase+')';sh.fillRect(bb[0]-30,bb[1]-30,bb[2]-bb[0]+60,bb[3]-bb[1]+60);
    polyPath(sil,inner);sil.fillStyle='#000';sil.fill();
    for(var k=0;k<o.n;k++){
      var q=randIn(r,mid,mb);var x=q[0],y=q[1];
      var rx=o.rmin+r()*(o.rmax-o.rmin),ry=rx*(0.55+r()*0.45),an=r()*3.1416;
      sil.fillStyle='#000';sil.beginPath();sil.ellipse(x,y,rx,ry,an,0,6.2832);sil.fill();
      sh.save();sh.translate(x,y);sh.rotate(an);sh.scale(1,ry/rx);
      var g=sh.createRadialGradient(-rx*0.25,-rx*0.3,rx*0.05,0,0,rx);
      g.addColorStop(0,'rgb(255,255,255)');g.addColorStop(0.45,'rgb('+o.sh1+','+o.sh1+','+o.sh1+')');g.addColorStop(0.8,'rgb('+o.sh2+','+o.sh2+','+o.sh2+')');g.addColorStop(1,'rgb('+o.sh3+','+o.sh3+','+o.sh3+')');
      sh.fillStyle=g;sh.beginPath();sh.arc(0,0,rx,0,6.2832);sh.fill();sh.restore();
    }
    // crevices
    for(var k2=0;k2<o.ncrev;k2++){
      var q2=randIn(r,p,bb);var x2=q2[0],y2=q2[1],a=r()*6.28;
      sh.strokeStyle='rgba('+o.sh3+','+o.sh3+','+o.sh3+',0.55)';sh.lineWidth=1.5+r()*2.5;sh.beginPath();sh.moveTo(x2,y2);
      for(var s2=0;s2<5;s2++){a+=(r()-0.5)*1.4;x2+=Math.cos(a)*7;y2+=Math.sin(a)*7;sh.lineTo(x2,y2);}sh.stroke();
    }
    o.color(fc,r,bb);
    // specular
    for(var k3=0;k3<o.nspec;k3++){
      var q3=randIn(r,p,bb);
      lc.fillStyle='rgba(255,255,255,'+(0.35+r()*0.45)+')';lc.beginPath();lc.ellipse(q3[0],q3[1],1+r()*3,0.7+r()*1.4,r()*3.14,0,6.2832);lc.fill();
    }
    if(o.hole)o.hole(sil,sh,fc,lc);
  });
}

/* tube molecule */
function tubes(seed,p,o){
  var r=mk(seed),bb=bbox(p);
  render3d(bb,30,function(sil,sh,fc,lc){
    var prof=o.prof;
    for(var k=0;k<o.n;k++){
      var st=randIn(r,p,bb);var x=st[0],y=st[1];var a=r()*6.2832;if(o.rad&&r()<o.rad[2]){a=Math.atan2(y-o.rad[1],x-o.rad[0])+(r()<0.5?0:3.1416)+(r()-0.5)*0.6;}var pts=[x,y];
      var ns=o.smin+Math.floor(r()*(o.smax-o.smin));
      for(var s2=0;s2<ns;s2++){a+=(r()-0.5)*o.turn;x+=Math.cos(a)*o.step;y+=Math.sin(a)*o.step;if(!inPoly(p,x,y))break;pts.push(x,y);}
      var w=o.w*(0.75+0.5*r());
      function path(c,dx,dy){c.beginPath();c.moveTo(pts[0]+dx,pts[1]+dy);for(var i=2;i<pts.length;i+=2)c.lineTo(pts[i]+dx,pts[i+1]+dy);}
      sil.strokeStyle='#000';sil.lineWidth=w;path(sil,0,0);sil.stroke();
      for(var j=0;j<prof.length;j++){var g=prof[j][1];sh.strokeStyle='rgb('+g+','+g+','+g+')';sh.lineWidth=w*prof[j][0];path(sh,-w*prof[j][2],-w*prof[j][3]);sh.stroke();}
    }
    o.color(fc,r,bb);
  });
}

// f1
lumpy(201,f1,{n:1150,rmin:10,rmax:26,edgeIn:20,edgeMid:12,shBase:128,sh1:150,sh2:130,sh3:92,ncrev:260,nspec:380,
  color:function(fc,r,bb){
    fc.fillStyle='#4fb63e';fc.fillRect(bb[0]-30,bb[1]-30,bb[2]-bb[0]+60,bb[3]-bb[1]+60);
    var cx=1861.7,cy=2136.4;
    var cl=[[0.3,95],[1.15,80],[2.1,100],[3.0,90],[3.9,105],[4.9,85],[5.6,100]];
    for(var c=0;c<cl.length;c++){
      for(var k=0;k<24;k++){var an=cl[c][0]+gs(r)*0.2,d=cl[c][1]+gs(r)*20;var x=cx+Math.cos(an)*d,y=cy+Math.sin(an)*d;var t=r();
        var col=t<0.55?'245,220,30':(t<0.85?'240,150,35':'220,70,30');softSpot(fc,x,y,4+r()*9,col,0.95);}
    }
    for(var k2=0;k2<90;k2++){var x2=bb[0]+r()*(bb[2]-bb[0]),y2=bb[1]+r()*(bb[3]-bb[1]);softSpot(fc,x2,y2,2+r()*4,'235,225,40',0.9);}
  },
  hole:function(sil,sh,fc,lc){
    var cx=1862,cy=2134;var hp=[];for(var i=0;i<30;i++){var an=i/30*6.2832;var hr=31*(1+0.22*Math.sin(3*an+0.5)+0.12*Math.cos(7*an)+0.08*Math.sin(13*an));hp.push(cx+Math.cos(an)*hr*1.15,cy+Math.sin(an)*hr);}
    sil.globalCompositeOperation='destination-out';polyPath(sil,hp);sil.fill();sil.globalCompositeOperation='source-over';
  }
});

// f2
tubes(301,f2,{n:430,smin:5,smax:14,step:8,turn:0.55,w:21,rad:[2590,2135,0.6],
  prof:[[1.0,55,0,0],[0.86,105,0.03,0.04],[0.7,132,0.06,0.07],[0.45,145,0.09,0.11],[0.2,178,0.15,0.18]],
  color:function(fc,r,bb){
    fc.fillStyle='#45b649';fc.fillRect(bb[0]-30,bb[1]-30,bb[2]-bb[0]+60,bb[3]-bb[1]+60);
    var cx=2585;
    for(var k=0;k<300;k++){var x=bb[0]+r()*(bb[2]-bb[0]),y=bb[1]+r()*(bb[3]-bb[1]);var pr=0.08+0.75*Math.max(0,Math.min(1,(x-cx+40)/260));if(r()<pr)softSpot(fc,x,y,10+r()*22,'85,198,230',0.92);}
    for(var k2=0;k2<45;k2++){var x2=bb[0]+r()*(bb[2]-bb[0])*0.3,y2=bb[1]+(bb[3]-bb[1])*(0.15+r()*0.75);softSpot(fc,x2,y2,8+r()*14,'210,210,210',0.9);}
    for(var k3=0;k3<430;k3++){var x3=bb[0]+r()*(bb[2]-bb[0]),y3=bb[1]+r()*(bb[3]-bb[1]);softSpot(fc,x3,y3,3+r()*7,'248,228,25',0.95);}
    for(var k4=0;k4<520;k4++){var x4=bb[0]+r()*(bb[2]-bb[0]),y4=bb[1]+r()*(bb[3]-bb[1]);softSpot(fc,x4,y4,2+r()*5,r()<0.75?'228,45,35':'240,140,30',0.95);}
  }
});

function grayFill(v){return function(fc,r,bb){fc.fillStyle=v;fc.fillRect(bb[0]-30,bb[1]-30,bb[2]-bb[0]+60,bb[3]-bb[1]+60);};}
// c1 side view
spherePanel(11,459.5,1372.5,295.5,{axis:[0,1,0],nu:10500,nb:28000,bs:0.2,np:14000,ps:0.2,pfront:0.62,sz:1.55,col:BLUE,skip:[c1Mol,0.55],bw:function(l){var c=Math.cos(l);return 0.45+0.55*c*c;}},function(){
  lumpy(101,c1Mol,{n:1300,rmin:3,rmax:8,edgeIn:7,shBase:110,sh1:210,sh2:150,sh3:60,ncrev:220,nspec:500,color:grayFill('#c4c4c4')});
});
// c2 top view
spherePanel(12,1209,1372.5,295.5,{axis:[0,0,1],nu:11000,nb:13000,bs:0.22,nb2:9000,bs2:0.08,np:12000,ps:0.2,pfront:0.5,sz:1.55,col:BLUE,skip:[c2Mol,0.3]},function(){
  lumpy(102,c2Mol,{n:1400,rmin:3,rmax:8,edgeIn:7,shBase:110,sh1:210,sh2:150,sh3:60,ncrev:240,nspec:500,color:grayFill('#c4c4c4')});
});
// d1 side view
spherePanel(13,1990.6,1364.2,292,{axis:[0,1,0],nu:1900,nb:9000,bs:0.19,np:350,ps:0.3,pfront:0.5,sz:3.1,round:true,col:BLUE,skip:[d1Mol,0.8],bw:function(l){var s=Math.sin(l);return 0.35+0.65*s*s;}},function(){
  tubes(103,d1Mol,{n:420,smin:3,smax:8,step:5,turn:1.3,w:8,prof:[[1.0,40,0,0],[0.8,95,0.03,0.04],[0.6,130,0.06,0.07],[0.35,165,0.1,0.12],[0.15,230,0.14,0.17]],color:grayFill('#c4c4c4')});
});
// d2 top view
function d2w(l){var H=[0.5,0.6,0.9,1.0,0.8,0.7,1.0,0.8,0.6,0.7,0.9,1.0];var h=(l/6.2832*12+3)%12;var i=Math.floor(h),f=h-i;var v=H[i%12]*(1-f)+H[(i+1)%12]*f;return 0.1+0.9*v*v;}
var d2Mol=[];for(var i=0;i<36;i++){var a=i/36*6.2832;var rr=90*(1+0.07*Math.cos(6*a+0.3)+0.05*Math.sin(11*a)+0.03*Math.cos(17*a));d2Mol.push(2681+Math.cos(a)*rr,1356+Math.sin(a)*rr*0.97);}
spherePanel(14,2683,1364.6,291.7,{axis:[0,0,1],nu:2200,nb:9000,bs:0.26,nb2:6500,bs2:0.06,np:0,ps:0.3,pfront:0.5,sz:3.0,round:true,col:BLUE,skip:[d2Mol,0.8],bw:d2w},function(){
  tubes(104,d2Mol,{n:480,smin:3,smax:8,step:5,turn:1.1,w:8,prof:[[1.0,40,0,0],[0.8,95,0.03,0.04],[0.6,130,0.06,0.07],[0.35,165,0.1,0.12],[0.15,230,0.14,0.17]],color:grayFill('#a9a9a9')});
});
})();

</script>
</body></html>
